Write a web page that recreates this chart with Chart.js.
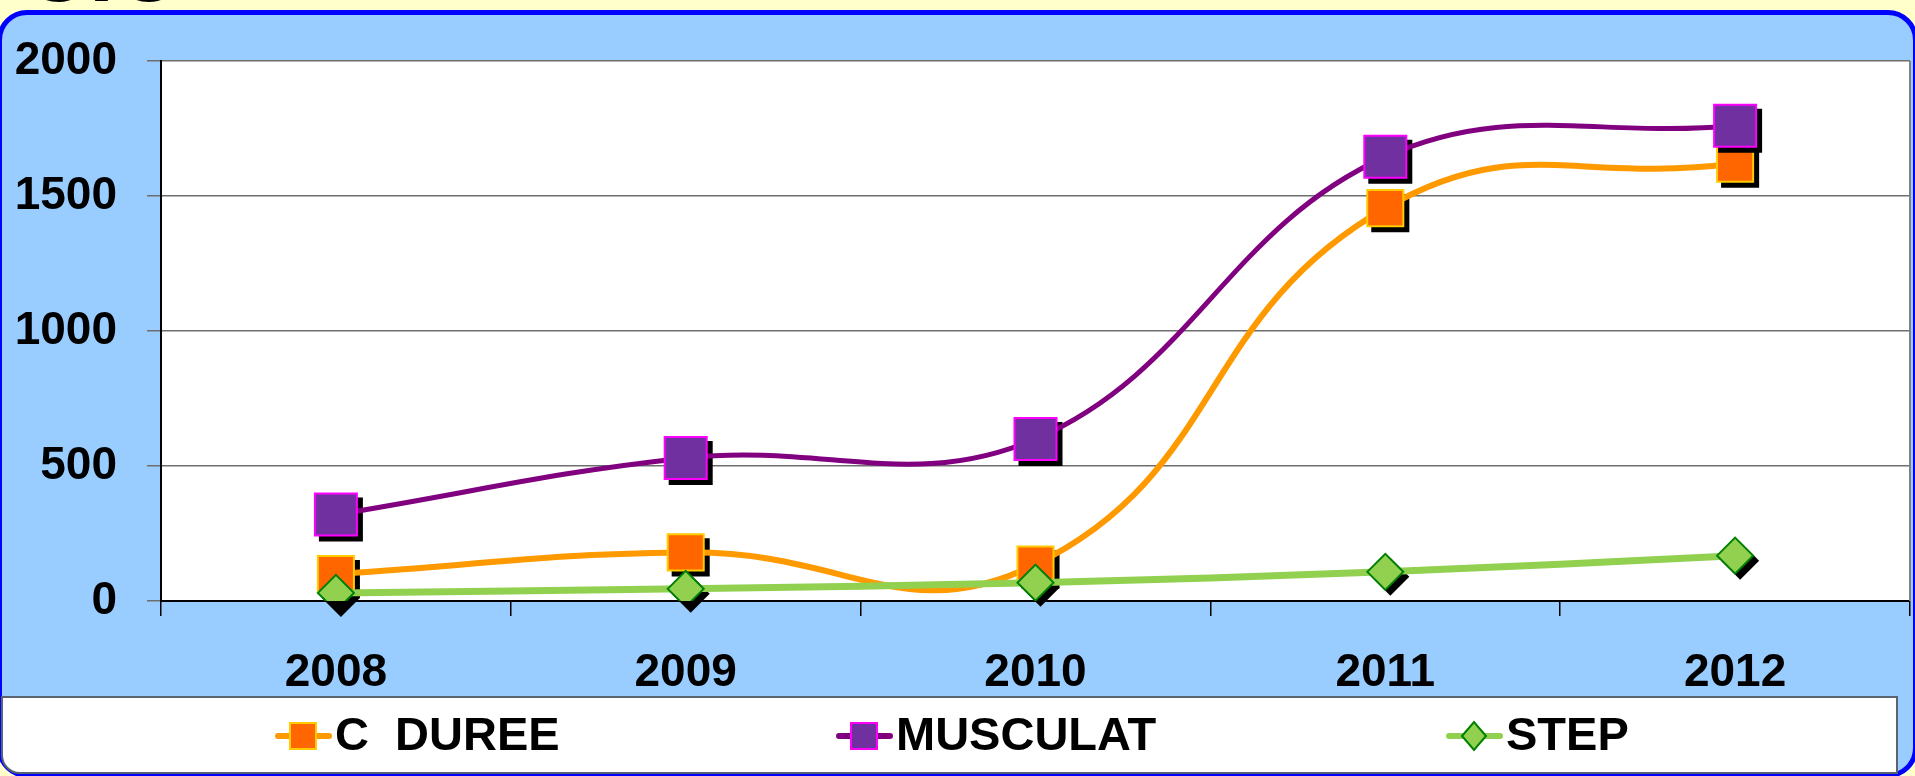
<!DOCTYPE html>
<html>
<head>
<meta charset="utf-8">
<script src="https://cdn.jsdelivr.net/npm/chart.js@4.4.1/dist/chart.umd.min.js"></script>
<style>
  html, body { margin: 0; padding: 0; background: #FFFFCC; overflow: hidden; }
  body { width: 1915px; height: 776px; position: relative; font-family: 'Liberation Sans', Arial, sans-serif; }
  #heading { position: absolute; left: 24px; top: -75px; font-size: 90px; font-weight: bold; line-height: 1; color: #000; white-space: nowrap; }
  #frame { position: absolute; left: -3px; top: 10px; width: 1921px; height: 768px; box-sizing: border-box;
           border: 5px solid #0000FF; border-radius: 30px; background: #99CCFF; }
  #wrap { position: absolute; left: 0; top: 0; width: 1915px; height: 776px; }
</style>
</head>
<body>
<div id="heading">C.O</div>
<div id="frame"></div>
<div id="wrap"><canvas id="chart"></canvas></div>
<script>
const years = ['2008', '2009', '2010', '2011', '2012'];
const cDuree = [100, 180, 135, 1455, 1620];
const musculat = [320, 530, 600, 1645, 1760];
const step = [30, 45, 68, 108, 168];
const yTicks = [0, 500, 1000, 1500, 2000];

const FONT = "'Liberation Sans', Arial, sans-serif";

// white plot area with a grey right edge
const plotBackground = {
  id: 'plotBackground',
  beforeDraw(chart) {
    const { ctx, chartArea: a } = chart;
    ctx.save();
    ctx.fillStyle = '#FFFFFF';
    ctx.fillRect(a.left, a.top, a.right - a.left, a.bottom - a.top);
    ctx.restore();
  },
  beforeDatasetsDraw(chart) {
    const { ctx, chartArea: a } = chart;
    ctx.save();
    ctx.strokeStyle = '#808080';
    ctx.lineWidth = 2;
    ctx.beginPath();
    ctx.moveTo(a.right, a.top);
    ctx.lineTo(a.right, a.bottom);
    ctx.stroke();
    ctx.restore();
  }
};

// black drop shadow behind every marker
const markerShadow = {
  id: 'markerShadow',
  beforeDatasetDraw(chart, args) {
    const ds = chart.data.datasets[args.index];
    const ctx = chart.ctx;
    const off = 5;
    ctx.save();
    ctx.fillStyle = '#000000';
    args.meta.data.forEach(pt => {
      const x = pt.x + off, y = pt.y + off;
      const b = ds.pointBorderWidth / 2;
      ctx.beginPath();
      if (ds.pointStyle === 'rectRot') {
        const d = ds.pointRadius + b;
        ctx.moveTo(x - d, y);
        ctx.lineTo(x, y - d);
        ctx.lineTo(x + d, y);
        ctx.lineTo(x, y + d);
        ctx.closePath();
      } else {
        const h = ds.pointRadius * Math.SQRT1_2 + b;
        ctx.rect(x - h, y - h, 2 * h, 2 * h);
      }
      ctx.fill();
    });
    ctx.restore();
  }
};

// one-row legend in a white box under the axis
const rowLegend = {
  id: 'rowLegend',
  afterDraw(chart, args, opts) {
    const ctx = chart.ctx;
    const [x0, y0, x1, y1] = opts.box;
    const cy = opts.centerY;
    ctx.save();
    ctx.fillStyle = '#FFFFFF';
    ctx.strokeStyle = '#5A6470';
    ctx.lineWidth = 2;
    ctx.beginPath();
    ctx.roundRect(x0, y0, x1 - x0, y1 - y0, [0, 0, 0, 18]);
    ctx.fill();
    ctx.stroke();

    chart.data.datasets.forEach((ds, i) => {
      const x = opts.starts[i];
      const mx = x + 28;
      ctx.strokeStyle = ds.borderColor;
      ctx.lineWidth = 6;
      ctx.lineCap = 'round';
      ctx.beginPath();
      ctx.moveTo(x + 3, cy);
      ctx.lineTo(x + 54, cy);
      ctx.stroke();

      ctx.fillStyle = ds.pointBackgroundColor;
      ctx.strokeStyle = ds.pointBorderColor;
      ctx.lineWidth = 2;
      ctx.beginPath();
      if (ds.pointStyle === 'rectRot') {
        ctx.moveTo(mx - 12, cy);
        ctx.lineTo(mx, cy - 14);
        ctx.lineTo(mx + 12, cy);
        ctx.lineTo(mx, cy + 14);
        ctx.closePath();
      } else {
        ctx.rect(mx - 13, cy - 13, 26, 26);
      }
      ctx.fill();
      ctx.stroke();

      ctx.fillStyle = '#000000';
      ctx.font = 'bold 47px ' + FONT;
      ctx.textAlign = 'left';
      ctx.textBaseline = 'middle';
      ctx.fillText(ds.label, x + 60, cy + 1);
    });
    ctx.restore();
  }
};

new Chart(document.getElementById('chart'), {
  type: 'line',
  data: {
    labels: years,
    datasets: [
      {
        label: 'C  DUREE',
        data: cDuree,
        order: 3,
        borderColor: '#FF9900',
        borderWidth: 6,
        tension: 0.46,
        pointStyle: 'rect',
        pointRadius: 25.5,
        pointHoverRadius: 25.5,
        pointBackgroundColor: '#FF6600',
        pointBorderColor: '#FFCC00',
        pointBorderWidth: 2,
      },
      {
        label: 'MUSCULAT',
        data: musculat,
        order: 2,
        borderColor: '#800080',
        borderWidth: 5,
        tension: 0.4,
        pointStyle: 'rect',
        pointRadius: 29.7,
        pointHoverRadius: 29.7,
        pointBackgroundColor: '#7030A0',
        pointBorderColor: '#FF00FF',
        pointBorderWidth: 2,
      },
      {
        label: 'STEP',
        data: step,
        order: 1,
        borderColor: '#92D050',
        borderWidth: 7,
        tension: 0.4,
        pointStyle: 'rectRot',
        pointRadius: 18,
        pointHoverRadius: 18,
        pointBackgroundColor: '#92D050',
        pointBorderColor: '#008000',
        pointBorderWidth: 2,
      },
    ],
  },
  options: {
    responsive: true,
    maintainAspectRatio: false,
    animation: false,
    events: [],
    elements: { line: { capBezierPoints: false } },
    layout: { autoPadding: false, padding: { top: 61, right: 5, bottom: 79, left: 0 } },
    plugins: {
      legend: { display: false },
      tooltip: { enabled: false },
      rowLegend: { box: [2, 697, 1897, 773], centerY: 736, starts: [275, 836, 1446] },
    },
    scales: {
      x: {
        offset: true,
        grid: { offset: true, drawOnChartArea: false, drawTicks: true, tickLength: 15, color: '#000000', lineWidth: 1.5 },
        border: { color: '#000000', width: 2 },
        ticks: { color: '#000000', font: { family: FONT, size: 46, weight: 'bold' }, padding: 30, maxRotation: 0, autoSkip: false },
        afterFit(scale) {
          scale.height = 96;
          scale.paddingLeft = 0;
          scale.paddingRight = 0;
        },
      },
      y: {
        min: yTicks[0],
        max: yTicks[yTicks.length - 1],
        afterBuildTicks(scale) { scale.ticks = yTicks.map(v => ({ value: v })); },
        grid: { color: '#6E6E6E', lineWidth: 1.5, tickLength: 14 },
        border: { color: '#000000', width: 2 },
        ticks: { color: '#000000', font: { family: FONT, size: 46, weight: 'bold' }, padding: 30, callback: v => String(v) },
        afterFit(scale) { scale.width = 161; },
      },
    },
  },
  plugins: [plotBackground, markerShadow, rowLegend],
});
</script>
</body>
</html>
